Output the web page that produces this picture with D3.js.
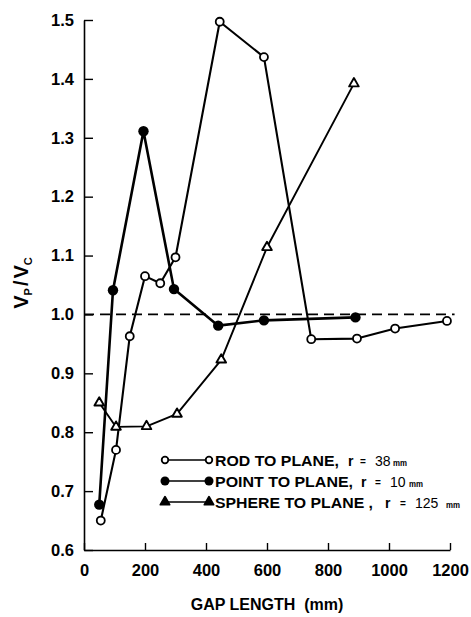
<!DOCTYPE html>
<html><head><meta charset="utf-8">
<script src="https://cdn.jsdelivr.net/npm/d3@7"></script>
<style>body{margin:0;background:#fff}svg{display:block}</style>
</head><body>
<script>
const rodX = [55, 105, 150, 200, 250, 300, 445, 590, 745, 895, 1020, 1190];
const rodY = [0.65, 0.77, 0.963, 1.065, 1.053, 1.097, 1.497, 1.437, 0.958, 0.959, 0.976, 0.989];
const pointX = [50, 95, 195, 295, 440, 590, 890];
const pointY = [0.677, 1.041, 1.311, 1.043, 0.981, 0.99, 0.995];
const sphereX = [50, 105, 205, 305, 450, 600, 885];
const sphereY = [0.85, 0.809, 0.81, 0.831, 0.923, 1.114, 1.392];
const xTicks = [0, 200, 400, 600, 800, 1000, 1200];
const yTicks = [0.6, 0.7, 0.8, 0.9, 1.0, 1.1, 1.2, 1.3, 1.4, 1.5];
const legendNames = ["ROD TO PLANE,", "POINT TO PLANE,", "SPHERE TO PLANE ,"];
const legendRadii = ["38", "10", "125"];
const refLine = 1.0;

const W = 471, H = 617;
const svg = d3.select("body").append("svg").attr("width", W).attr("height", H);
const x = d3.scaleLinear().domain([0, 1200]).range([84, 450]);
const y = d3.scaleLinear().domain([0.6, 1.5]).range([550, 20]);
const font = "'Liberation Sans', Arial, sans-serif";

// axes
const xAxis = d3.axisBottom(x).tickValues(xTicks).tickSize(-7).tickSizeOuter(0).tickPadding(14).tickFormat(d3.format("d"));
const gx = svg.append("g").attr("transform", `translate(0,${y(0.6)})`).call(xAxis);
const yAxis = d3.axisLeft(y).tickValues(yTicks).tickSize(-9).tickSizeOuter(0).tickPadding(16).tickFormat(d3.format(".1f"));
const gy = svg.append("g").attr("transform", `translate(${x(0)},0)`).call(yAxis);
[gx, gy].forEach(g => {
  g.select(".domain").attr("stroke", "#000").attr("stroke-width", 1.6);
  g.selectAll(".tick line").attr("stroke", "#000").attr("stroke-width", 1.4);
  g.selectAll("text").attr("fill", "#000").attr("font-family", font).attr("font-weight", "bold").attr("font-size", 16.5);
});
gy.selectAll("text").attr("dx", 6);

// dashed reference
svg.append("line").attr("x1", x(0)).attr("x2", x(1215)).attr("y1", y(refLine)).attr("y2", y(refLine))
  .attr("stroke", "#000").attr("stroke-width", 1.7).attr("stroke-dasharray", "10,6");

const line = d3.line().x(d => x(d[0])).y(d => y(d[1]));
const series = [
  {xs: rodX, ys: rodY, type: "open", w: 2.1},
  {xs: pointX, ys: pointY, type: "filled", w: 2.6},
  {xs: sphereX, ys: sphereY, type: "tri", w: 1.9}
];
function drawMarker(g, type, cx, cy, legend) {
  if (type === "open") g.append("circle").attr("cx", cx).attr("cy", cy).attr("r", legend ? 3.3 : 4).attr("fill", "#fff").attr("stroke", "#000").attr("stroke-width", 1.8);
  else if (type === "filled") g.append("circle").attr("cx", cx).attr("cy", cy).attr("r", legend ? 4.5 : 5.2).attr("fill", "#000");
  else g.append("path").attr("d", d3.symbol().type(d3.symbolTriangle).size(legend ? 36 : 40)()).attr("transform", `translate(${cx},${cy})`)
    .attr("fill", legend ? "#000" : "#fff").attr("stroke", "#000").attr("stroke-width", 1.9).attr("stroke-linejoin", "round");
}
series.forEach(s => {
  const pts = s.xs.map((v, i) => [v, s.ys[i]]);
  svg.append("path").datum(pts).attr("d", line).attr("fill", "none").attr("stroke", "#000").attr("stroke-width", s.w).attr("stroke-linejoin", "round");
});
series.forEach(s => {
  const g = svg.append("g");
  s.xs.forEach((v, i) => drawMarker(g, s.type, x(v), y(s.ys[i]), false));
});

// legend
const legY = [460, 481, 502];
const nameLen = [124, 138, 158];
const rX = [348, 361, 385];
const eqX = [360, 375, 400];
const numX = [375, 390, 415];
const mmX = [393, 409, 446];
legendNames.forEach((t, i) => {
  const g = svg.append("g").attr("font-family", font).attr("font-weight", "bold").attr("fill", "#000");
  g.append("line").attr("x1", 165).attr("x2", 209).attr("y1", legY[i]).attr("y2", legY[i]).attr("stroke", "#000").attr("stroke-width", 1.7);
  drawMarker(g, series[i].type, 165, legY[i], true);
  drawMarker(g, series[i].type, 209, legY[i], true);
  const by = legY[i] + 5.5;
  g.append("text").attr("x", 215).attr("y", by).attr("font-size", 14.5).attr("textLength", nameLen[i]).attr("lengthAdjust", "spacingAndGlyphs").text(t);
  g.append("text").attr("x", rX[i]).attr("y", by).attr("font-size", 14).text("r");
  g.append("text").attr("x", eqX[i]).attr("y", by - 1).attr("font-size", 10).text("=");
  g.append("text").attr("x", numX[i]).attr("y", by).attr("font-size", 14).attr("font-weight", "normal").text(legendRadii[i]);
  g.append("text").attr("x", mmX[i]).attr("y", by).attr("font-size", 9).attr("textLength", 14).attr("lengthAdjust", "spacingAndGlyphs").text("mm");
});

// axis titles
svg.append("text").attr("x", 267).attr("y", 610).attr("text-anchor", "middle").attr("font-family", font)
  .attr("font-weight", "bold").attr("font-size", 16).text("GAP LENGTH  (mm)").style("white-space", "pre");
const yl = svg.append("text").attr("transform", "translate(28,283) rotate(-90)").attr("text-anchor", "middle")
  .attr("font-family", font).attr("font-weight", "bold").attr("font-size", 20);
yl.append("tspan").text("V");
yl.append("tspan").attr("font-size", 11).attr("dy", 4).text("P");
yl.append("tspan").attr("dy", -4).attr("dx", 2).text("/");
yl.append("tspan").attr("dx", 2).text("V");
yl.append("tspan").attr("font-size", 11).attr("dy", 4).text("C");
</script>
</body></html>
